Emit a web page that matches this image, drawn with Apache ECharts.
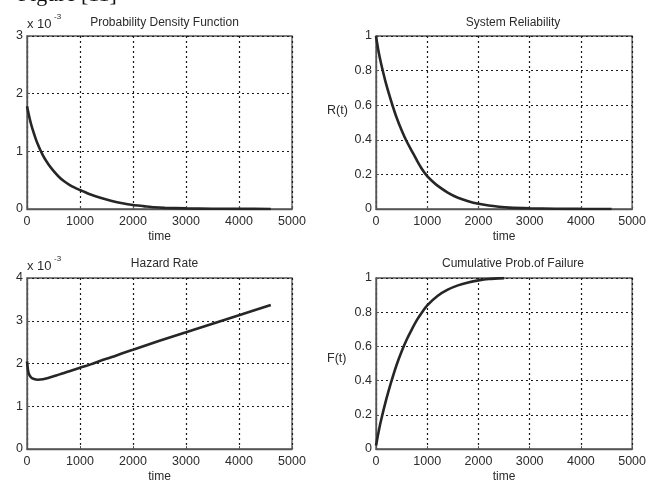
<!DOCTYPE html>
<html>
<head>
<meta charset="utf-8">
<script src="https://cdn.jsdelivr.net/npm/echarts@6/dist/echarts.min.js"></script>
<style>
html,body{margin:0;padding:0;background:#fff;}
#main{width:649px;height:484px;}
</style>
</head>
<body>
<div id="main"></div>
<script>
// ---- data ----
var timePts = [0, 50, 100, 200, 300, 400, 500, 600, 700, 800, 900, 1000, 1100, 1200, 1400, 1600, 1800, 2000, 2200, 2400, 2600, 3000, 3500, 4000, 4600];
var pdfVals = [1.78e-3, 1.57e-3, 1.40e-3, 1.13e-3, 0.93e-3, 0.78e-3, 0.66e-3, 0.56e-3, 0.48e-3, 0.42e-3, 0.37e-3, 0.33e-3, 0.29e-3, 0.25e-3, 0.19e-3, 0.14e-3, 0.10e-3, 0.07e-3, 0.05e-3, 0.03e-3, 0.02e-3, 0.01e-3, 0.005e-3, 0.002e-3, 0.001e-3];
var relVals = [1.0, 0.91, 0.84, 0.72, 0.62, 0.53, 0.455, 0.39, 0.335, 0.28, 0.23, 0.19, 0.16, 0.135, 0.095, 0.065, 0.045, 0.03, 0.02, 0.013, 0.008, 0.004, 0.0015, 0.0005, 0.0];
var hazTime = [0, 25, 50, 100, 200, 300, 400, 500, 600, 700, 800, 1000, 1200, 1400, 1600, 1800, 2000, 2500, 3000, 3500, 4000, 4600];
var hazVals = [2.05e-3, 1.80e-3, 1.72e-3, 1.65e-3, 1.62e-3, 1.63e-3, 1.66e-3, 1.70e-3, 1.74e-3, 1.78e-3, 1.82e-3, 1.90e-3, 1.98e-3, 2.07e-3, 2.15e-3, 2.24e-3, 2.32e-3, 2.53e-3, 2.73e-3, 2.93e-3, 3.13e-3, 3.37e-3];
var cdfTime = [0, 25, 50, 100, 200, 300, 400, 500, 600, 700, 800, 900, 1000, 1200, 1400, 1600, 1800, 2000, 2200, 2500];
var cdfVals = [0.02, 0.06, 0.10, 0.17, 0.29, 0.395, 0.49, 0.57, 0.64, 0.70, 0.755, 0.80, 0.84, 0.895, 0.932, 0.957, 0.974, 0.986, 0.994, 0.999];
var xTicks = ['0', '1000', '2000', '3000', '4000', '5000'];
var titles = ['Probability Density Function', 'System Reliability', 'Hazard Rate', 'Cumulative Prob.of Failure'];

function zip(a, b) { return a.map(function (v, i) { return [v, b[i]]; }); }

var FONT = '"Liberation Sans", Arial, sans-serif';
var TXT = '#2b2b2b';
var grids = [
  {left: 27, top: 36, width: 265, height: 173},
  {left: 376, top: 36, width: 264, height: 173},
  {left: 27, top: 278, width: 265, height: 173},
  {left: 376, top: 278, width: 264, height: 173}
];
grids.forEach(function (g) { g.show = true; g.borderColor = '#555'; g.borderWidth = 1.3; g.backgroundColor = '#fff'; });

var dotted = {show: true, lineStyle: {color: '#1a1a1a', type: [2, 3], width: 1.2}};

function xAx(i) {
  return {
    type: 'value', gridIndex: i, min: 0, max: 5000, interval: 1000,
    name: 'time', nameLocation: 'middle', nameGap: 22,
    nameTextStyle: {fontFamily: FONT, fontSize: 12, color: TXT},
    axisLine: {show: true, onZero: false, lineStyle: {color: '#555', width: 1.3}},
    axisTick: {show: true, inside: true, length: 3, lineStyle: {color: '#555'}},
    axisLabel: {fontFamily: FONT, fontSize: 12.5, color: TXT, margin: 6,
      formatter: function (v) { return xTicks[Math.round(v / 1000)]; }},
    splitLine: dotted
  };
}
function yAx(i, max, interval, fmt) {
  return {
    type: 'value', gridIndex: i, min: 0, max: max, interval: interval,
    axisLine: {show: true, lineStyle: {color: '#555', width: 1.3}},
    axisTick: {show: true, inside: true, length: 3, lineStyle: {color: '#555'}},
    axisLabel: {fontFamily: FONT, fontSize: 12.5, color: TXT, margin: 4, formatter: fmt},
    splitLine: dotted
  };
}
var sci = function (v) { return String(Math.round(v * 1000)); };
var dec = function (v) { return String(Math.round(v * 10) / 10); };

var lineStyle = {color: '#262626', width: 2.6};
function ser(i, data) {
  return {type: 'line', xAxisIndex: i, yAxisIndex: i, data: data, showSymbol: false,
    smooth: 0.25, lineStyle: lineStyle, animation: false, clip: true};
}

var titleOpts = titles.map(function (t, i) {
  var g = grids[i];
  return {text: t, left: g.left + g.width / 2, top: (i < 2 ? 12 : 253), textAlign: 'center',
    textStyle: {fontFamily: FONT, fontSize: 12, fontWeight: 'normal', color: TXT}};
});

var gText = function (x, y, t, size) {
  return {type: 'text', left: x, top: y, style: {text: t, fontFamily: FONT, fontSize: size, fill: TXT}, z: 10};
};

var chart = echarts.init(document.getElementById('main'), null, {renderer: 'canvas'});
chart.setOption({
  backgroundColor: '#fff',
  animation: false,
  title: titleOpts,
  grid: grids,
  xAxis: [xAx(0), xAx(1), xAx(2), xAx(3)],
  yAxis: [yAx(0, 0.003, 0.001, sci), yAx(1, 1, 0.2, dec), yAx(2, 0.004, 0.001, sci), yAx(3, 1, 0.2, dec)],
  series: [
    ser(0, zip(timePts, pdfVals)),
    ser(1, zip(timePts, relVals)),
    ser(2, zip(hazTime, hazVals)),
    ser(3, zip(cdfTime, cdfVals))
  ],
  graphic: [
    {type: 'text', left: 18, top: -16, style: {text: 'Figure [11]', fontFamily: '"Liberation Serif", serif', fontSize: 22, fill: '#111'}},
    gText(27, 18, 'x 10', 13),
    gText(54, 13, '-3', 8),
    gText(27, 260, 'x 10', 13),
    gText(54, 255, '-3', 8),
    gText(327, 104, 'R(t)', 12.5),
    gText(327, 352, 'F(t)', 12.5)
  ]
});
</script>
</body>
</html>
